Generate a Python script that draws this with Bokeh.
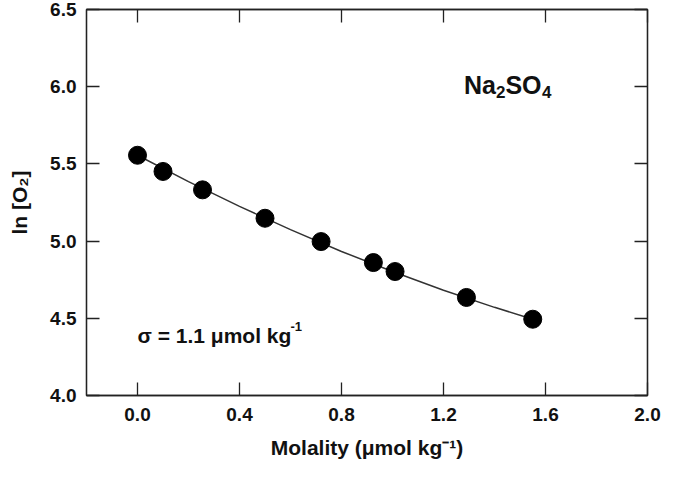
from bokeh.plotting import figure
from bokeh.models import Range1d, FixedTicker, PrintfTickFormatter, LinearAxis, Label, CustomJSTickFormatter
from bokeh.embed import file_html
from bokeh.resources import INLINE

# ---- data ----
molality = [0.0, 0.10, 0.255, 0.50, 0.72, 0.925, 1.01, 1.29, 1.55]
ln_o2 = [5.556, 5.451, 5.332, 5.148, 4.997, 4.861, 4.803, 4.635, 4.494]
fit_molality = [0.0, 0.2, 0.4, 0.6, 0.8, 1.0, 1.2, 1.4, 1.55]
fit_ln_o2 = [5.556, 5.385, 5.225, 5.074, 4.933, 4.803, 4.682, 4.571, 4.494]
x_ticks = [0.0, 0.4, 0.8, 1.2, 1.6, 2.0]
y_ticks = [4.0, 4.5, 5.0, 5.5, 6.0, 6.5]

FONT = "Liberation Sans"
INK = "#111111"
AX = "#222222"

p = figure(frame_width=561, frame_height=386,
           x_range=Range1d(-0.2, 2.0), y_range=Range1d(4.0, 6.5),
           output_backend="svg", toolbar_location=None,
           min_border_left=86, min_border_right=14, min_border_top=9, min_border_bottom=8)
p.xgrid.visible = False
p.ygrid.visible = False
p.outline_line_color = AX
p.outline_line_width = 1.3
p.background_fill_color = "white"
p.border_fill_color = "white"

bottom = p.below[0]
left = p.left[0]

bottom.ticker = FixedTicker(ticks=x_ticks)
left.ticker = FixedTicker(ticks=y_ticks)
bottom.formatter = PrintfTickFormatter(format="%.1f")
left.formatter = PrintfTickFormatter(format="%.1f")
bottom.axis_label = "Molality (\u03bcmol kg\u207b\u00b9)"
left.axis_label = "ln [O\u2082]"

blank = CustomJSTickFormatter(code="return ''")
top = LinearAxis(ticker=FixedTicker(ticks=x_ticks), formatter=blank,
                 major_label_text_font_size="1px", major_label_standoff=0)
right = LinearAxis(ticker=FixedTicker(ticks=y_ticks), formatter=blank,
                   major_label_text_font_size="1px", major_label_standoff=0)
p.add_layout(top, "above")
p.add_layout(right, "right")

for ax in [bottom, left, top, right]:
    ax.major_tick_in = 13
    ax.major_tick_out = 0
    ax.minor_tick_line_color = None
    ax.axis_line_color = AX
    ax.axis_line_width = 1.3
    ax.major_tick_line_color = AX
    ax.major_tick_line_width = 1.3

for ax in [bottom, left]:
    ax.major_label_text_font = FONT
    ax.major_label_text_font_style = "bold"
    ax.major_label_text_font_size = "19px"
    ax.major_label_text_color = INK
    ax.axis_label_text_font = FONT
    ax.axis_label_text_font_style = "bold"
    ax.axis_label_text_font_size = "21px"
    ax.axis_label_text_color = INK

bottom.major_label_standoff = 12
bottom.axis_label_standoff = 12
left.major_label_standoff = 10
left.axis_label_standoff = 16

p.line(fit_molality, fit_ln_o2, line_color="#333333", line_width=1.5)
p.scatter(molality, ln_o2, size=18, fill_color="black", line_color="black")


def lab(text, x, y, size, xo=0, yo=0, baseline="alphabetic"):
    p.add_layout(Label(x=x, y=y, x_offset=xo, y_offset=yo, text=text,
                       text_font=FONT, text_font_style="bold",
                       text_font_size=size, text_color=INK,
                       text_baseline=baseline, text_align="left"))

# Na2SO4 label
lab("Na", 1.28, 6.01, "25px")
lab("2", 1.28, 6.01, "17px", xo=32, yo=-7)
lab("SO", 1.28, 6.01, "25px", xo=41.5)
lab("4", 1.28, 6.01, "17px", xo=78, yo=-7)

# sigma label
lab("\u03c3 = 1.1 \u03bcmol kg", 0.0, 4.39, "21px")
lab("-1", 0.0, 4.39, "13px", xo=153, yo=9)

open("out.html", "w").write(file_html(p, INLINE))
